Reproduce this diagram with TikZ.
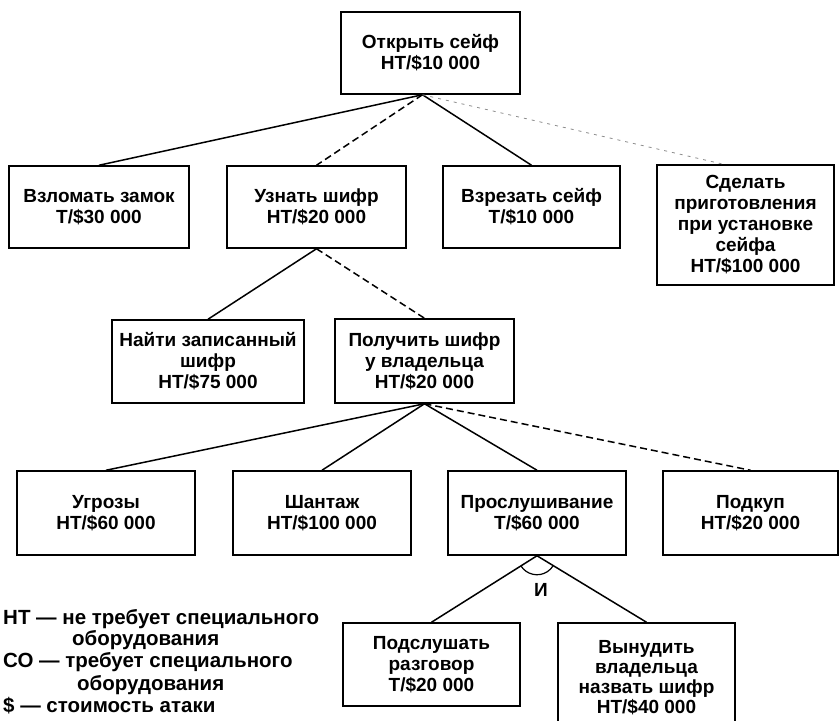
\documentclass[tikz,border=0pt]{standalone}
\usepackage{fontspec}
\setmainfont{Liberation Sans}
\usetikzlibrary{angles}
\begin{document}
\begin{tikzpicture}[x=1pt,y=-1pt,
  txt/.style={font=\fontsize{19}{21}\selectfont\bfseries},
  box/.style={draw, line width=1.5pt, align=center, inner sep=0pt, txt},
  link/.style={line width=1.5pt},
  dlink/.style={line width=1.5pt, dash pattern=on 7pt off 4pt},
  flink/.style={line width=0.8pt, black!45, dash pattern=on 3pt off 5pt},
  legend/.style={anchor=base west, inner sep=0pt, font=\fontsize{20.5}{22}\selectfont\bfseries}]
\useasboundingbox (0,0) rectangle (840,720);
\fill[white] (0,0) rectangle (840,720);
% level 1
\node[box, minimum width=179pt, minimum height=82pt] (top) at (430.5,53) {Открыть сейф\\НТ/\$10 000};
% level 2
\node[box, minimum width=180pt, minimum height=82pt] (vzlom) at (99,207) {Взломать замок\\Т/\$30 000};
\node[box, minimum width=179pt, minimum height=82pt] (uznat) at (316.5,207) {Узнать шифр\\НТ/\$20 000};
\node[box, minimum width=177pt, minimum height=82pt] (vrezat) at (531.5,207) {Взрезать сейф\\Т/\$10 000};
\node[box, minimum width=177pt, minimum height=120pt] (sdelat) at (745.5,225) {Сделать\\приготовления\\при установке\\сейфа\\НТ/\$100 000};
% level 3
\node[box, minimum width=192pt, minimum height=83pt] (naiti) at (208,361.5) {Найти записанный\\шифр\\НТ/\$75 000};
\node[box, minimum width=179pt, minimum height=84pt] (poluch) at (424.5,361) {Получить шифр\\у владельца\\НТ/\$20 000};
% level 4
\node[box, minimum width=178pt, minimum height=84pt] (ugroz) at (106,513) {Угрозы\\НТ/\$60 000};
\node[box, minimum width=178pt, minimum height=84pt] (shant) at (322,513) {Шантаж\\НТ/\$100 000};
\node[box, minimum width=178pt, minimum height=84pt] (prosl) at (537,513) {Прослушивание\\Т/\$60 000};
\node[box, minimum width=175pt, minimum height=84pt] (podk) at (750.5,513) {Подкуп\\НТ/\$20 000};
% level 5
\node[box, minimum width=177pt, minimum height=83pt] (podsl) at (431.5,664.5) {Подслушать\\разговор\\Т/\$20 000};
\node[box, minimum width=177pt, minimum height=110pt, font=\fontsize{19}{20}\selectfont\bfseries] (vynud) at (646.5,678) {Вынудить\\владельца\\назвать шифр\\НТ/\$40 000};
% connectors
\coordinate (topapex) at ([xshift=-8pt]top.south);
\draw[link] (topapex) -- (vzlom.north);
\draw[dlink] (topapex) -- (uznat.north);
\draw[link] (topapex) -- (vrezat.north);
\draw[flink] (topapex) -- ([xshift=-22pt]sdelat.north);
\draw[link] (uznat.south) -- (naiti.north);
\draw[dlink] (uznat.south) -- (poluch.north);
\draw[link] (poluch.south) -- (ugroz.north);
\draw[link] (poluch.south) -- (shant.north);
\draw[link] (poluch.south) -- (prosl.north);
\draw[dlink] (poluch.south) -- (podk.north);
\coordinate (andapex) at (prosl.south);
\coordinate (andl) at (podsl.north);
\coordinate (andr) at (vynud.north);
\draw[link] (andapex) -- (andl);
\draw[link] (andapex) -- (andr);
\pic[draw, line width=1.2pt, angle radius=19pt] {angle = andl--andapex--andr};
\node[txt, inner sep=0pt] (and) at (541,590) {И};
% legend
\node[legend] (l1) at (3,624) {НТ — не требует специального};
\node[legend] (l2) at (72,645) {оборудования};
\node[legend] (l3) at (3,667) {СО — требует специального};
\node[legend] (l4) at (77,690) {оборудования};
\node[legend] (l5) at (3,712) {\$ — стоимость атаки};
\end{tikzpicture}
\end{document}
